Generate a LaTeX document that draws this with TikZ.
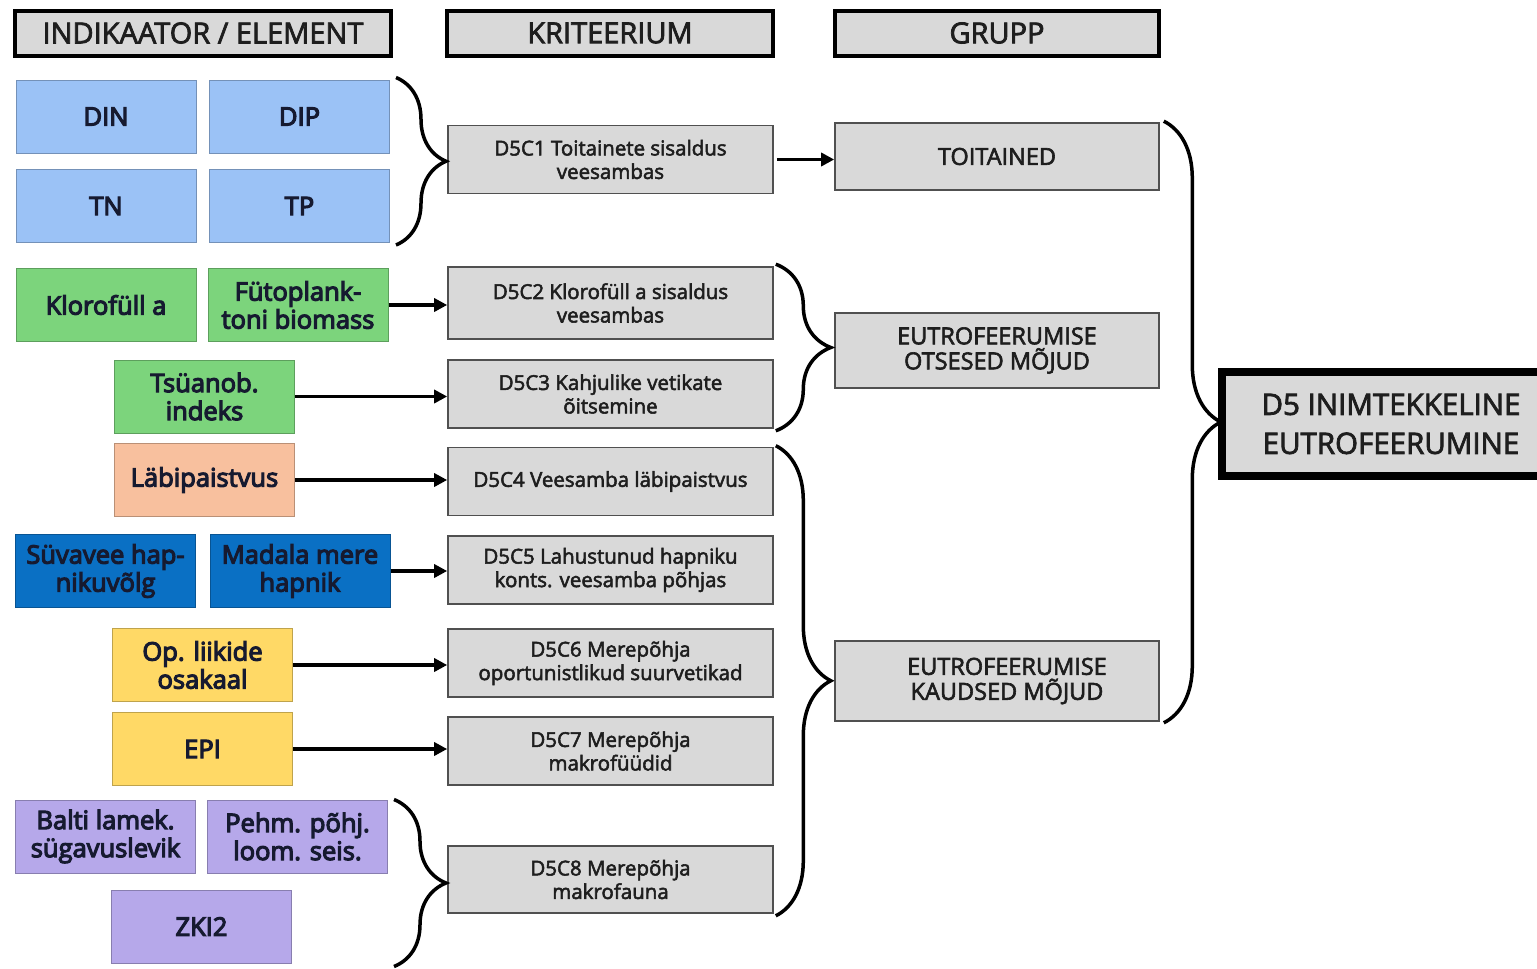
\documentclass[tikz,border=0pt]{standalone}
\usepackage{fontspec}
\setmainfont{Open Sans}
\newfontfamily\semib[FakeBold=2.6]{Open Sans}
\newfontfamily\indf[FakeBold=4.5]{Open Sans}
\usetikzlibrary{arrows.meta,decorations.pathreplacing,calc}
\definecolor{boxgray}{RGB}{217,217,217}
\definecolor{critline}{RGB}{80,80,80}
\definecolor{lblue}{RGB}{155,194,246}
\definecolor{lgreen}{RGB}{124,212,124}
\definecolor{salmon}{RGB}{248,192,158}
\definecolor{dblue}{RGB}{10,112,196}
\definecolor{yell}{RGB}{255,217,102}
\definecolor{purp}{RGB}{182,168,234}
\definecolor{txtdark}{RGB}{22,26,48}
\definecolor{txtgray}{RGB}{30,30,30}
\tikzset{
  hdr/.style={draw=black, line width=4pt, fill=boxgray, inner sep=0pt,
    minimum height=45pt, font=\semib\fontsize{29}{32}\selectfont, text=txtgray},
  crit/.style={draw=critline, line width=1.6pt, fill=boxgray, inner sep=0pt,
    minimum width=325pt, minimum height=68pt, align=center,
    font=\semib\fontsize{20.5}{23.5}\selectfont, text=txtgray},
  grp/.style={draw=critline, line width=1.6pt, fill=boxgray, inner sep=0pt,
    minimum width=324pt, align=center,
    font=\semib\fontsize{23.5}{25}\selectfont, text=txtgray},
  ind/.style={draw=#1!75!black, fill=#1, line width=1pt, inner sep=0pt,
    minimum width=180pt, minimum height=73pt, align=center,
    font=\indf\fontsize{25.5}{28}\selectfont, text=txtdark},
  conn/.style={line width=3.5pt, -{Triangle[length=13pt,width=13pt]}},
  brc/.style={line width=3.5pt, decorate,
    decoration={brace, amplitude=#1}},
}
\begin{document}
\begin{tikzpicture}[x=1pt,y=-1pt]
\useasboundingbox (0,0) rectangle (1537,969);
\clip (0,0) rectangle (1537,969);
% headers
\node[hdr, minimum width=376pt] (h1) at (203,33) {INDIKAATOR / ELEMENT};
\node[hdr, minimum width=326pt] (h2) at (610,33) {KRITEERIUM};
\node[hdr, minimum width=324pt] (h3) at (997,33) {GRUPP};
% indicators
\node[ind=lblue] (din) at (106,116.5) {DIN};
\node[ind=lblue] (dip) at (299.5,116.5) {DIP};
\node[ind=lblue] (tn) at (106,206) {TN};
\node[ind=lblue] (tp) at (299.5,206) {TP};
\node[ind=lgreen] (klo) at (106,305) {Klorofüll a};
\node[ind=lgreen] (fyt) at (298,305) {Fütoplank-\\toni biomass};
\node[ind=lgreen] (tsy) at (204.5,396.5) {Tsüanob.\\indeks};
\node[ind=salmon] (lab) at (204.5,480) {Läbipaistvus};
\node[ind=dblue] (syv) at (105.5,571) {Süvavee hap-\\nikuvõlg};
\node[ind=dblue] (mad) at (300,571) {Madala mere\\hapnik};
\node[ind=yell] (opl) at (202.5,665) {Op. liikide\\osakaal};
\node[ind=yell] (epi) at (202.5,749) {EPI};
\node[ind=purp] (bal) at (105.5,836.5) {Balti lamek.\\sügavuslevik};
\node[ind=purp] (peh) at (297.5,836.5) {Pehm. põhj.\\loom. seis.};
\node[ind=purp] (zki) at (201.5,926.5) {ZKI2};
% criteria
\node[crit] (c1) at (610.5,159.5) {D5C1 Toitainete sisaldus\\veesambas};
\node[crit, minimum height=72pt] (c2) at (610.5,303) {D5C2 Klorofüll a sisaldus\\veesambas};
\node[crit] (c3) at (610.5,394) {D5C3 Kahjulike vetikate\\õitsemine};
\node[crit] (c4) at (610.5,481.5) {D5C4 Veesamba läbipaistvus};
\node[crit] (c5) at (610.5,570) {D5C5 Lahustunud hapniku\\konts. veesamba põhjas};
\node[crit] (c6) at (610.5,663) {D5C6 Merepõhja\\oportunistlikud suurvetikad};
\node[crit] (c7) at (610.5,751) {D5C7 Merepõhja\\makrofüüdid};
\node[crit, minimum height=67pt] (c8) at (610.5,879.5) {D5C8 Merepõhja\\makrofauna};
% groups
\node[grp, minimum height=67pt] (g1) at (997,156.5) {TOITAINED};
\node[grp, minimum height=75pt] (g2) at (997,350.5) {EUTROFEERUMISE\\OTSESED MÕJUD};
\node[grp, minimum height=80pt] (g3) at (997,681) {\hspace*{20pt}EUTROFEERUMISE\\\hspace*{20pt}KAUDSED MÕJUD};
% D5
\node[draw=black, line width=8pt, fill=boxgray, inner sep=0pt,
  minimum width=338pt, minimum height=104pt, align=center,
  font=\semib\fontsize{29.5}{39}\selectfont, text=txtgray] (d5) at (1391,424)
  {D5 INIMTEKKELINE\\EUTROFEERUMINE};
% arrows
\draw[conn] (c1.east) ++(3,0) coordinate (a1) -- (a1 -| g1.west);
\draw[conn] (fyt.east) -- (fyt.east -| c2.west);
\draw[conn] (tsy.east) -- (tsy.east -| c3.west);
\draw[conn] (lab.east) -- (lab.east -| c4.west);
\draw[conn] (mad.east) -- (mad.east -| c5.west);
\draw[conn] (opl.east) -- (opl.east -| c6.west);
\draw[conn] (epi.east) -- (epi.east -| c7.west);
% braces
\draw[brc=50pt] ($(dip.north east)+(6,-2)$) -- ($(tp.south east)+(6,2)$);
\draw[brc=52pt] ($(peh.north east)+(6,0)$) -- ($(peh.north east |- zki.south)+(6,3)$);
\draw[brc=55pt] ($(c2.north east)+(2,-2)$) -- ($(c3.south east)+(2,2)$);
\draw[brc=55pt] ($(c4.north east)+(2,-1)$) -- ($(c8.south east)+(2,2)$);
\draw[brc=57pt] ($(g1.north east)+(4,-1)$) -- ($(g3.south east)+(4,1)$);
\end{tikzpicture}
\end{document}
